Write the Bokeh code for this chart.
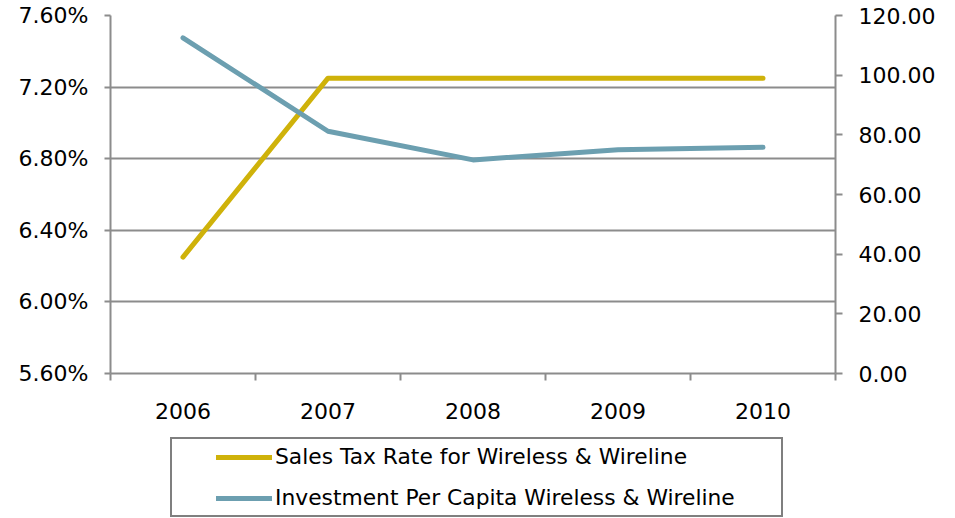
from bokeh.plotting import figure
from bokeh.layouts import column
from bokeh.models import (Range1d, LinearAxis, FixedTicker, PrintfTickFormatter,
                          Legend, LegendItem, ColumnDataSource)
from bokeh.embed import file_html
from bokeh.resources import INLINE

years = ["2006", "2007", "2008", "2009", "2010"]
sales_tax_rate = [6.25, 7.25, 7.25, 7.25, 7.25]          # percent
investment_per_capita = [112.5, 81.2, 71.6, 75.0, 75.8]  # dollars
left_ticks = [5.6, 6.0, 6.4, 6.8, 7.2, 7.6]
right_ticks = [0, 20, 40, 60, 80, 100, 120]
series_names = ["Sales Tax Rate for Wireless & Wireline",
                "Investment Per Capita Wireless & Wireline"]

FONT = "DejaVu Sans"
GRAY = "#8c8c8c"
YELLOW = "#cfb20a"
BLUE = "#6c9fb0"

centers = [i + 0.5 for i in range(len(years))]
bounds = list(range(len(years) + 1))

src = ColumnDataSource(dict(x=centers, tax=sales_tax_rate, inv=investment_per_capita))

p = figure(width=955, height=430, output_backend="svg", toolbar_location=None,
           x_range=Range1d(0, len(years)), y_range=Range1d(left_ticks[0], left_ticks[-1]),
           min_border_left=110, min_border_right=120, min_border_top=15,
           min_border_bottom=57)
p.outline_line_color = None
p.background_fill_color = "white"
p.border_fill_color = "white"

p.extra_y_ranges = {"inv": Range1d(right_ticks[0], right_ticks[-1])}

# bottom axis: labels at category centres, tick marks at category boundaries
xt = FixedTicker(ticks=centers, minor_ticks=bounds)
xa = p.xaxis[0]
xa.ticker = xt
xa.major_label_overrides = {c: y for c, y in zip(centers, years)}
xa.major_tick_line_color = None
xa.major_tick_out = 0
xa.major_tick_in = 0
xa.minor_tick_line_color = GRAY
xa.minor_tick_line_width = 2
xa.minor_tick_out = 7
xa.minor_tick_in = 0
xa.axis_line_color = GRAY
xa.axis_line_width = 2
xa.major_label_standoff = 22
xa.major_label_text_font = FONT
xa.major_label_text_font_size = "22px"
xa.major_label_text_color = "black"

# left axis
lt = FixedTicker(ticks=left_ticks, minor_ticks=[])
ya = p.yaxis[0]
ya.ticker = lt
ya.formatter = PrintfTickFormatter(format="%.2f%%")
ya.axis_line_color = GRAY
ya.axis_line_width = 2
ya.major_tick_line_color = GRAY
ya.major_tick_line_width = 2
ya.major_tick_out = 6
ya.major_tick_in = 0
ya.minor_tick_line_color = None
ya.major_label_standoff = 16
ya.major_label_text_font = FONT
ya.major_label_text_font_size = "22px"
ya.major_label_text_color = "black"

p.xgrid.visible = False
p.ygrid.ticker = lt
p.ygrid.grid_line_color = GRAY
p.ygrid.grid_line_width = 2

# right axis
ra = LinearAxis(y_range_name="inv", ticker=FixedTicker(ticks=right_ticks, minor_ticks=[]),
                formatter=PrintfTickFormatter(format="%.2f"))
ra.axis_line_color = GRAY
ra.axis_line_width = 2
ra.major_tick_line_color = GRAY
ra.major_tick_line_width = 2
ra.major_tick_out = 7
ra.major_tick_in = 0
ra.minor_tick_line_color = None
ra.major_label_standoff = 16
ra.major_label_text_font = FONT
ra.major_label_text_font_size = "22px"
ra.major_label_text_color = "black"
p.add_layout(ra, "right")

line_kw = dict(line_width=5, line_cap="round", line_join="round")
p.line("x", "tax", source=src, line_color=YELLOW, **line_kw)
p.line("x", "inv", source=src, y_range_name="inv", line_color=BLUE, **line_kw)

# legend panel below the chart (frame aligned with the chart's frame)
q = figure(width=955, height=88, output_backend="svg", toolbar_location=None,
           x_axis_type=None, y_axis_type=None,
           min_border_left=110, min_border_right=120, min_border_top=0, min_border_bottom=0)
q.outline_line_color = None
q.xgrid.visible = False
q.ygrid.visible = False
q.background_fill_color = "white"
q.border_fill_color = "white"
g1 = q.line("x", "tax", source=src, line_color=YELLOW, visible=False, **line_kw)
g2 = q.line("x", "inv", source=src, line_color=BLUE, visible=False, **line_kw)

legend = Legend(items=[LegendItem(label=series_names[0], renderers=[g1]),
                       LegendItem(label=series_names[1], renderers=[g2])],
                location=(60, 1), orientation="vertical",
                padding=5, spacing=16, glyph_width=56, glyph_height=22,
                label_height=22, label_width=501, label_standoff=3,
                label_text_font=FONT, label_text_font_size="21.8px",
                label_text_color="black", label_text_baseline="middle",
                border_line_color="black", border_line_width=2,
                background_fill_color="white", background_fill_alpha=1,
                title=" ", title_location="left", title_text_font_size="1px",
                title_standoff=38)
q.add_layout(legend)

layout = column(p, q, spacing=0)
open("out.html", "w").write(file_html(layout, INLINE))
